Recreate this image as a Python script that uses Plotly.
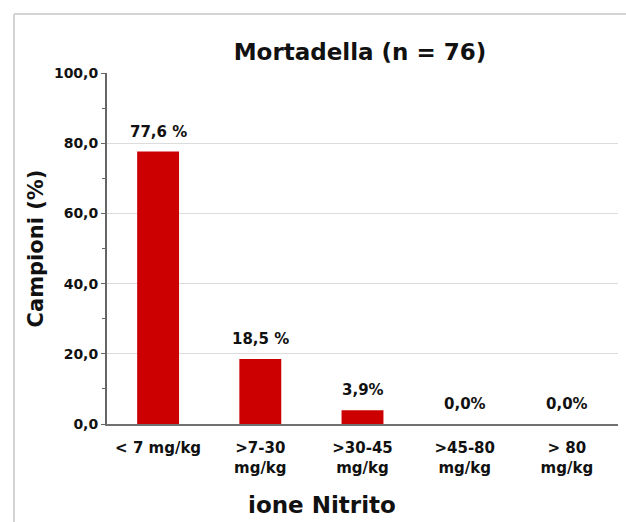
import plotly.graph_objects as go

# Nitrite ion distribution in mortadella samples
categories = ["< 7 mg/kg", ">7-30<br>mg/kg", ">30-45<br>mg/kg", ">45-80<br>mg/kg", "> 80<br>mg/kg"]
percentages = [77.6, 18.5, 3.9, 0.0, 0.0]
value_labels = ["77,6 %", "18,5 %", "3,9%", "0,0%", "0,0%"]
y_ticks = [0, 20, 40, 60, 80, 100]

FONT = "DejaVu Sans, Verdana, sans-serif"
INK = "#111111"
W, H = 626, 522
ML, MR, MT, MB = 107, 8, 73, 98

fig = go.Figure(
    go.Bar(
        x=categories,
        y=percentages,
        marker=dict(color="#CC0000", line=dict(width=0)),
        hoverinfo="skip",
    )
)

# value labels sitting above each bar
for cat, val, lab in zip(categories, percentages, value_labels):
    fig.add_annotation(
        x=cat, y=val, xref="x", yref="y",
        text=lab, showarrow=False,
        yanchor="bottom", yshift=9,
        font=dict(family=FONT, size=15, color=INK, weight="bold"),
    )

pw = W - ML - MR
ph = H - MT - MB
def px(x):
    return (x - ML) / pw
def py(y):
    return (H - MB - y) / ph

# x-axis title, set a little left of the plot centre
fig.add_annotation(
    x=px(322), y=py(505), xref="paper", yref="paper",
    text="ione Nitrito", showarrow=False,
    xanchor="center", yanchor="middle",
    font=dict(family=FONT, size=23, color=INK, weight="bold"),
)

# light frame around the chart (top and left edges)
frame = dict(type="line", xref="paper", yref="paper", line=dict(color="#d4d4d4", width=2))
fig.add_shape(**frame, x0=px(14), x1=px(626), y0=py(14), y1=py(14))
fig.add_shape(**frame, x0=px(14), x1=px(14), y0=py(14), y1=py(522))

fig.update_layout(
    width=W,
    height=H,
    margin=dict(l=ML, r=MR, t=MT, b=MB),
    paper_bgcolor="white",
    plot_bgcolor="white",
    separators=",.",
    showlegend=False,
    bargap=0.59,
    font=dict(family=FONT, color=INK),
    title=dict(
        text="Mortadella (n = 76)",
        x=360 / W,
        xanchor="center",
        y=1 - 52 / H,
        yanchor="middle",
        font=dict(family=FONT, size=23, color=INK, weight="bold"),
    ),
    xaxis=dict(
        tickfont=dict(family=FONT, size=15, color=INK, weight="bold"),
        ticklabelstandoff=9,
        showline=True,
        linecolor="#707070",
        linewidth=2,
        ticks="",
        showgrid=False,
    ),
    yaxis=dict(
        title=dict(
            text="Campioni (%)",
            font=dict(family=FONT, size=21, color=INK, weight="bold"),
            standoff=5,
        ),
        range=[0, 100],
        tickvals=y_ticks,
        tickformat=".1f",
        tickfont=dict(family=FONT, size=14, color=INK, weight="bold"),
        showline=True,
        linecolor="#666666",
        linewidth=2,
        ticks="outside",
        ticklen=4,
        tickcolor="#666666",
        minor=dict(ticks="outside", dtick=10, tick0=0, ticklen=3, tickcolor="#666666", showgrid=False),
        showgrid=True,
        gridcolor="#dcdcdc",
        gridwidth=1,
        zeroline=False,
    ),
)

fig.write_html("out.html", config={"displayModeBar": False})
